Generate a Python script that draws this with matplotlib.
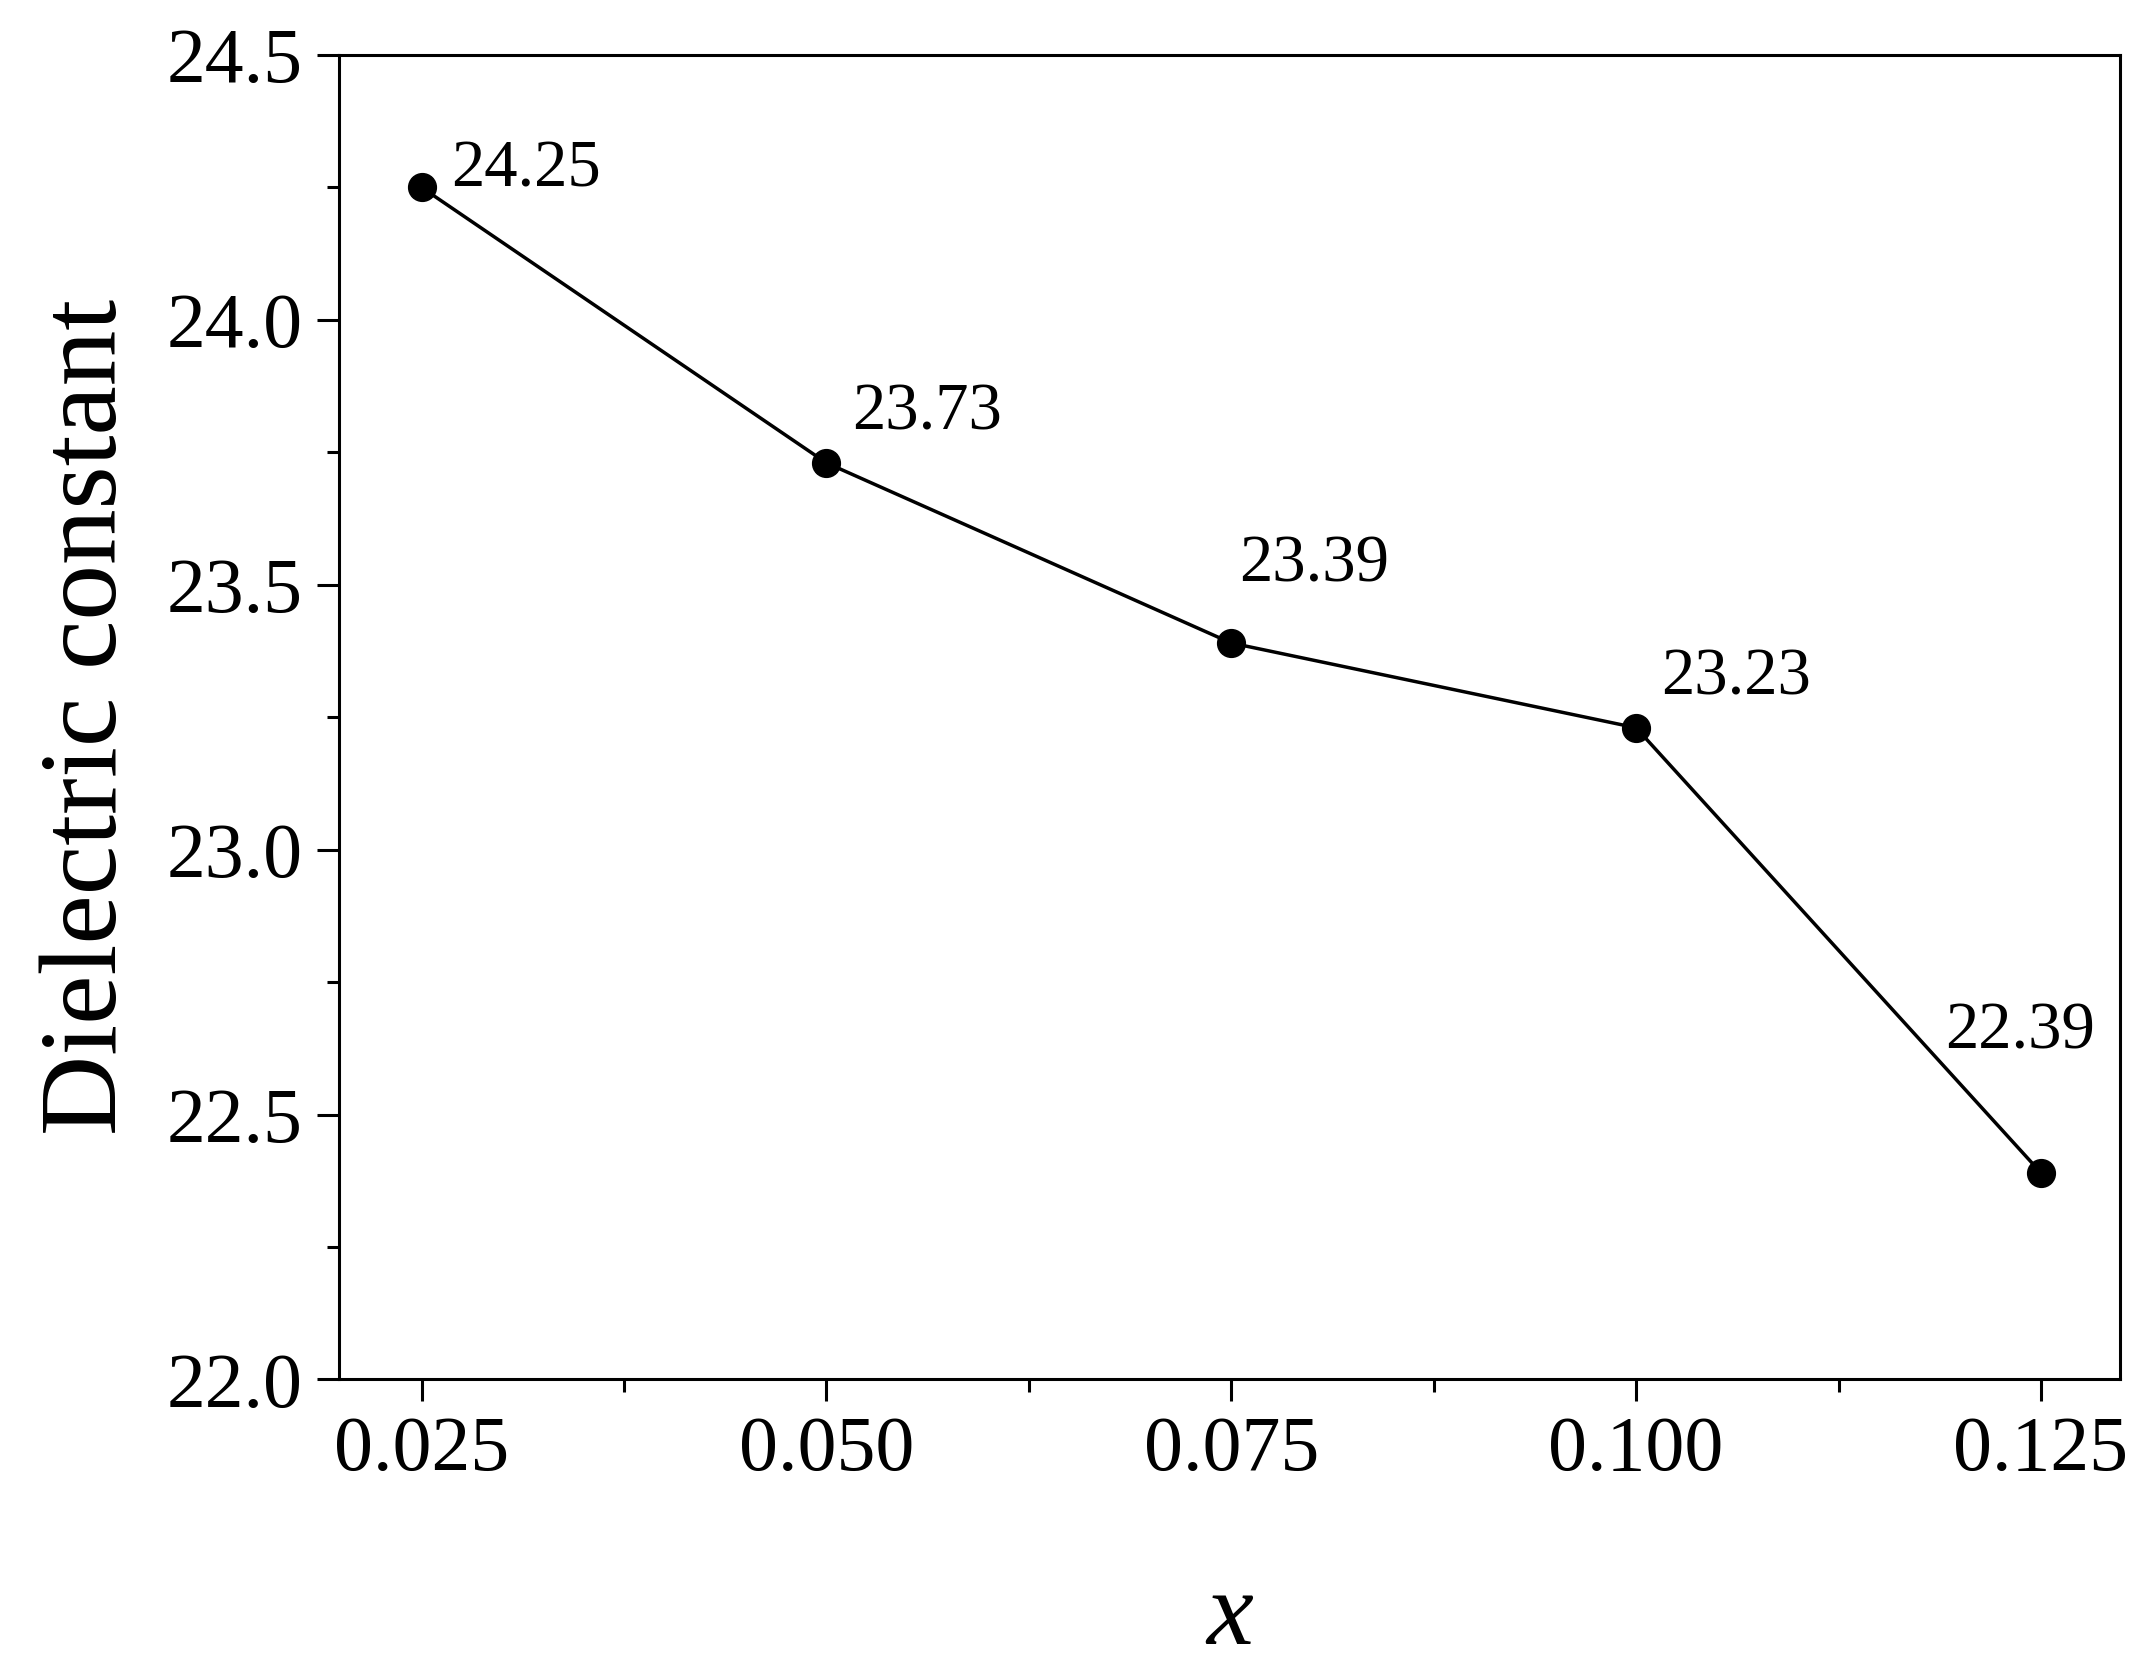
import matplotlib.pyplot as plt
from matplotlib.ticker import MultipleLocator

plt.rcParams['font.family'] = ['Liberation Serif', 'DejaVu Serif']

x_vals = [0.025, 0.050, 0.075, 0.100, 0.125]
eps = [24.25, 23.73, 23.39, 23.23, 22.39]
labels = ['24.25', '23.73', '23.39', '23.23', '22.39']
# label offsets in pixels (dx, dy) relative to each point
offsets = [(30, 17), (26, 50), (8, 78), (25, 50), (-96, 141)]

fig = plt.figure(figsize=(21.45, 16.64), dpi=100)
ax = fig.add_axes([0.158, 0.171, 0.8305, 0.796])

ax.plot(x_vals, eps, color='black', linewidth=2.5, marker='o', markersize=20)
for xv, yv, lab, (dx, dy) in zip(x_vals, eps, labels, offsets):
    ax.annotate(lab, (xv, yv), xytext=(dx, dy), textcoords='offset pixels',
                ha='left', va='center', fontsize=48)

ax.set_xlim(0.0199, 0.1299)
ax.set_ylim(22.0, 24.5)
ax.set_xticks(x_vals)
ax.set_xticklabels(['0.025', '0.050', '0.075', '0.100', '0.125'])
ax.xaxis.set_minor_locator(MultipleLocator(0.0125))
ax.yaxis.set_major_locator(MultipleLocator(0.5))
ax.yaxis.set_minor_locator(MultipleLocator(0.25))
ax.yaxis.set_major_formatter(plt.FormatStrFormatter('%.1f'))
ax.tick_params(which='major', length=16, width=2.2, labelsize=56, pad=10)
ax.tick_params(which='minor', length=9, width=2.2)
for s in ax.spines.values():
    s.set_linewidth(2.2)

ax.set_ylabel('Dielectric constant', fontsize=80, labelpad=20)
ax.set_xlabel('x', fontsize=76, style='italic', labelpad=60)

fig.savefig('out.png', dpi=100)
